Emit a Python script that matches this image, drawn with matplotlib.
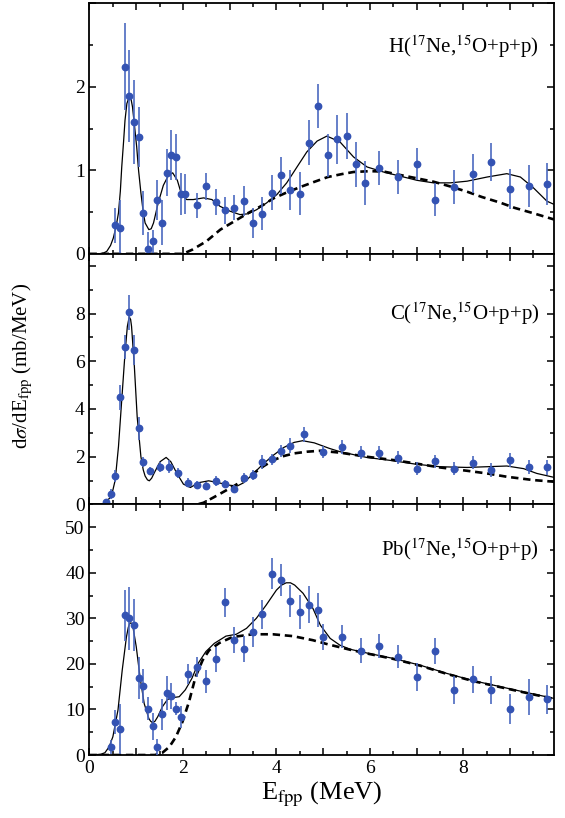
import numpy as np
import matplotlib
matplotlib.use('Agg')
import matplotlib.pyplot as plt
from matplotlib.ticker import MultipleLocator, FuncFormatter

plt.rcParams['font.family'] = ['Liberation Serif', 'DejaVu Serif']
plt.rcParams['mathtext.fontset'] = 'stix'

# ---- H target ----
h_e = [0.55, 0.65, 0.75, 0.85, 0.95, 1.05, 1.15, 1.25, 1.35, 1.45, 1.55, 1.65, 1.75, 1.85, 1.95, 2.05,
       2.3, 2.5, 2.7, 2.9, 3.1, 3.3, 3.5, 3.7, 3.9, 4.1, 4.3, 4.5, 4.7, 4.9, 5.1, 5.3, 5.5, 5.7, 5.9,
       6.2, 6.6, 7.0, 7.4, 7.8, 8.2, 8.6, 9.0, 9.4, 9.8]
h_val = [0.34, 0.31, 2.24, 1.89, 1.58, 1.40, 0.49, 0.06, 0.15, 0.65, 0.37, 0.97, 1.18, 1.16, 0.72, 0.72,
         0.58, 0.81, 0.62, 0.52, 0.55, 0.63, 0.37, 0.48, 0.73, 0.94, 0.76, 0.72, 1.33, 1.77, 1.18,
         1.37, 1.41, 1.07, 0.85, 1.03, 0.92, 1.08, 0.65, 0.80, 0.96, 1.10, 0.78, 0.81, 0.84]
h_err = [0.21, 0.34, 0.52, 0.55, 0.50, 0.36, 0.26, 0.20, 0.14, 0.24, 0.27, 0.28, 0.30, 0.27, 0.25, 0.24,
         0.15, 0.16, 0.16, 0.16, 0.15, 0.18, 0.18, 0.20, 0.21, 0.22, 0.24, 0.26, 0.27, 0.26, 0.26,
         0.29, 0.28, 0.27, 0.26, 0.20, 0.20, 0.19, 0.20, 0.20, 0.23, 0.23, 0.24, 0.25, 0.25]
h_fit_e = [0.19, 0.30, 0.37, 0.45, 0.51, 0.57, 0.62, 0.66, 0.69, 0.73, 0.76, 0.80, 0.85, 0.89, 0.92,
           0.96, 1.01, 1.05, 1.10, 1.15, 1.19, 1.27, 1.32, 1.37, 1.47, 1.58, 1.69, 1.78, 1.88, 1.97,
           2.08, 2.22, 2.44, 2.62, 2.79, 3.01, 3.22, 3.40, 3.58, 3.79, 4.01, 4.22, 4.44, 4.65, 4.87,
           5.08, 5.36, 5.65, 5.94, 6.29, 6.65, 7.01, 7.36, 7.72, 8.08, 8.51, 8.93, 9.22, 9.50, 9.79,
           9.95]
h_fit = [0.0, 0.01, 0.03, 0.10, 0.19, 0.33, 0.49, 0.75, 1.04, 1.35, 1.60, 1.80, 1.88, 1.85, 1.76,
         1.55, 1.28, 1.00, 0.73, 0.50, 0.37, 0.29, 0.30, 0.37, 0.61, 0.82, 0.94, 0.97, 0.88, 0.71,
         0.65, 0.65, 0.67, 0.65, 0.57, 0.51, 0.47, 0.48, 0.53, 0.61, 0.71, 0.85, 1.04, 1.22, 1.35,
         1.41, 1.34, 1.16, 1.04, 0.98, 0.93, 0.88, 0.85, 0.85, 0.87, 0.92, 0.96, 0.92, 0.79, 0.63,
         0.59]
h_bg_e = [0.0, 2.0, 2.2, 2.5, 2.8, 3.1, 3.4, 3.7, 3.94, 4.2, 4.51, 4.8, 5.1, 5.4, 5.65, 6.0, 6.3,
          6.65, 7.0, 7.36, 7.7, 8.08, 8.4, 8.79, 9.1, 9.5, 9.95]
h_bg = [0.0, 0.0, 0.05, 0.15, 0.29, 0.39, 0.49, 0.58, 0.665, 0.73, 0.80, 0.86, 0.92, 0.955, 0.98,
        0.99, 0.985, 0.944, 0.905, 0.864, 0.81, 0.744, 0.68, 0.613, 0.55, 0.486, 0.41]

# ---- C target ----
c_e = [0.35, 0.45, 0.55, 0.65, 0.75, 0.85, 0.95, 1.05, 1.15, 1.3, 1.5, 1.7, 1.9, 2.1, 2.3, 2.5, 2.7,
       2.9, 3.1, 3.3, 3.5, 3.7, 3.9, 4.1, 4.3, 4.6, 5.0, 5.4, 5.8, 6.2, 6.6, 7.0, 7.4, 7.8, 8.2, 8.6,
       9.0, 9.4, 9.8]
c_val = [0.11, 0.43, 1.19, 4.49, 6.60, 8.05, 6.48, 3.19, 1.79, 1.41, 1.58, 1.58, 1.30, 0.91, 0.81,
         0.77, 0.98, 0.85, 0.66, 1.09, 1.23, 1.78, 1.89, 2.23, 2.46, 2.94, 2.18, 2.41, 2.17, 2.17,
         1.95, 1.50, 1.80, 1.50, 1.75, 1.44, 1.86, 1.58, 1.55]
c_err = [0.10, 0.20, 0.25, 0.52, 0.52, 0.73, 0.63, 0.49, 0.21, 0.17, 0.21, 0.28, 0.21, 0.18, 0.18,
         0.15, 0.20, 0.17, 0.15, 0.21, 0.21, 0.28, 0.23, 0.26, 0.31, 0.31, 0.25, 0.28, 0.28, 0.28,
         0.27, 0.28, 0.28, 0.28, 0.28, 0.28, 0.31, 0.29, 0.33]
c_fit_e = [0.20, 0.33, 0.44, 0.50, 0.55, 0.62, 0.69, 0.76, 0.81, 0.85, 0.88, 0.90, 0.96, 1.02, 1.10,
           1.15, 1.19, 1.24, 1.28, 1.33, 1.38, 1.51, 1.64, 1.74, 1.87, 2.01, 2.16, 2.33, 2.55, 2.76,
           2.98, 3.16, 3.30, 3.51, 3.73, 3.94, 4.16, 4.38, 4.56, 4.81, 5.13, 5.36, 5.93, 6.50, 6.97,
           7.50, 8.08, 8.50, 8.93, 9.29, 9.57, 9.95]
c_fit = [0.0, 0.04, 0.29, 0.60, 1.02, 2.42, 4.38, 6.34, 7.46, 7.86, 7.75, 7.46, 5.78, 3.68, 2.00,
         1.45, 1.19, 1.03, 0.99, 1.10, 1.30, 1.79, 1.97, 1.79, 1.30, 0.85, 0.71, 0.91, 0.99, 0.91,
         0.81, 0.77, 0.91, 1.30, 1.72, 2.07, 2.39, 2.60, 2.67, 2.58, 2.35, 2.21, 1.97, 1.83, 1.69,
         1.58, 1.55, 1.58, 1.61, 1.50, 1.30, 1.13]
c_bg_e = [0.0, 2.3, 2.44, 2.65, 2.87, 3.09, 3.30, 3.51, 3.73, 3.94, 4.16, 4.38, 4.66, 4.94, 5.36,
          5.93, 6.50, 6.97, 7.50, 8.08, 8.50, 8.93, 9.50, 9.95]
c_bg = [0.0, 0.0, 0.07, 0.29, 0.53, 0.77, 1.02, 1.30, 1.61, 1.86, 2.03, 2.14, 2.21, 2.25, 2.17,
        2.00, 1.86, 1.72, 1.55, 1.41, 1.30, 1.16, 1.02, 0.95]

# ---- Pb target ----
pb_e = [0.45, 0.55, 0.65, 0.75, 0.85, 0.95, 1.05, 1.15, 1.25, 1.35, 1.45, 1.55, 1.65, 1.75, 1.85,
        1.95, 2.1, 2.3, 2.5, 2.7, 2.9, 3.1, 3.3, 3.5, 3.7, 3.9, 4.1, 4.3, 4.5, 4.7, 4.9, 5.0, 5.4,
        5.8, 6.2, 6.6, 7.0, 7.4, 7.8, 8.2, 8.6, 9.0, 9.4, 9.8]
pb_val = [1.8, 7.2, 5.8, 30.7, 30.0, 28.5, 17.0, 15.1, 10.2, 6.3, 1.8, 8.9, 13.6, 13.0, 10.2,
          8.3, 17.7, 19.4, 16.2, 21.0, 33.5, 25.2, 23.3, 26.9, 30.9, 39.8, 38.4, 33.8, 31.4, 33.0,
          31.9, 25.9, 26.0, 22.9, 23.9, 21.6, 17.2, 22.8, 14.3, 16.6, 14.3, 10.1, 12.7, 12.2]
pb_err = [1.5, 2.6, 5.5, 5.6, 6.9, 5.7, 4.6, 3.7, 2.6, 2.9, 1.8, 3.5, 3.7, 2.9, 1.5,
          2.4, 2.2, 2.2, 2.5, 2.7, 3.1, 2.9, 2.9, 3.3, 3.2, 3.4, 3.5, 3.5, 3.8, 4.0,
          3.7, 2.9, 2.6, 2.7, 2.7, 2.6, 3.1, 2.8, 3.1, 3.0, 3.1, 3.3, 3.9, 3.2]
pb_fit_e = [0.08, 0.25, 0.33, 0.42, 0.50, 0.61, 0.70, 0.79, 0.83, 0.86, 0.89, 0.93, 1.00, 1.08,
            1.17, 1.27, 1.31, 1.35, 1.40, 1.46, 1.56, 1.67, 1.79, 1.92, 2.05, 2.19, 2.33, 2.49,
            2.67, 2.92, 3.14, 3.36, 3.57, 3.78, 4.00, 4.11, 4.21, 4.30, 4.39, 4.57, 4.78, 4.94,
            5.15, 5.36, 5.58, 5.93, 6.50, 7.08, 7.65, 8.22, 8.79, 9.36, 9.95]
pb_fit = [0.0, 0.2, 0.5, 1.8, 4.0, 9.9, 18.6, 25.9, 28.0, 28.9, 29.0, 28.1, 23.8, 17.2,
          11.3, 8.0, 7.4, 7.1, 7.4, 8.4, 10.6, 12.2, 12.6, 12.8, 14.3, 16.8, 20.2, 22.7,
          24.5, 26.1, 26.5, 27.8, 30.0, 32.9, 36.2, 37.3, 37.8, 37.8, 37.3, 35.5, 32.2, 28.5,
          25.6, 24.1, 23.2, 22.4, 21.2, 19.7, 17.9, 16.3, 15.0, 13.7, 12.4]
pb_bg_e = [0.0, 1.40, 1.56, 1.71, 1.85, 1.99, 2.13, 2.27, 2.42, 2.56, 2.78, 3.06, 3.49, 3.92,
           4.35, 4.78, 5.10, 5.58, 5.93, 6.50, 7.08, 7.65, 8.22, 8.79, 9.36, 9.95]
pb_bg = [0.0, 0.0, 0.5, 1.8, 4.0, 7.3, 11.7, 17.2, 20.8, 23.0, 24.6, 25.9, 26.5, 26.5,
         26.1, 25.2, 24.3, 23.1, 22.3, 21.1, 19.6, 17.8, 16.2, 14.9, 13.6, 12.3]

panels = [
    ('H', h_e, h_val, h_err, h_fit_e, h_fit, h_bg_e, h_bg, 3.0, 1, 0.5, 2, 0.827),
    ('C', c_e, c_val, c_err, c_fit_e, c_fit, c_bg_e, c_bg, 10.5, 2, 1, 8, 0.763),
    ('Pb', pb_e, pb_val, pb_err, pb_fit_e, pb_fit, pb_bg_e, pb_bg, 55, 10, 5, 50, 0.82),
]

fig, axes = plt.subplots(3, 1, figsize=(5.65, 8.18), dpi=100, sharex=True,
                         gridspec_kw={'hspace': 0})
fig.subplots_adjust(left=0.1584, right=0.9814, top=0.996, bottom=0.077)

pt_color = '#3453b3'
for ax, (tgt, e, v, err, fe, fv, be, bv, ymax, major, minor, top_lab, ty) in zip(axes, panels):
    ax.plot(be, bv, color='black', lw=1.9, linestyle=(0, (2.8, 1.8)), zorder=2)
    ax.plot(fe, fv, color='black', lw=0.9, zorder=3)
    ax.errorbar(e, v, yerr=err, fmt='o', color=pt_color, ecolor='#4c69c0', ms=4.6,
                elinewidth=1.2, capsize=0, zorder=4)
    ax.set_xlim(0, 9.95)
    ax.set_ylim(0, ymax)
    ax.xaxis.set_major_locator(MultipleLocator(1))
    ax.xaxis.set_minor_locator(MultipleLocator(0.5))
    ax.xaxis.set_major_formatter(FuncFormatter(lambda x, p: '%d' % x if int(round(x)) % 2 == 0 else ''))
    ax.yaxis.set_major_locator(MultipleLocator(major))
    ax.yaxis.set_minor_locator(MultipleLocator(minor))
    ax.yaxis.set_major_formatter(FuncFormatter(lambda y, p, t=top_lab: '' if y > t + 1e-6 else '%d' % y))
    ax.tick_params(which='both', direction='in', top=True, right=True, labelsize=14, width=1.1)
    ax.tick_params(which='major', length=5)
    ax.tick_params(which='minor', length=3)
    for s in ax.spines.values():
        s.set_linewidth(1.3)
    ax.text(0.967, ty, tgt + '($^{17}$Ne,$^{15}$O+p+p)', transform=ax.transAxes,
            ha='right', va='center', fontsize=15)

axes[2].set_xlabel(r'E$_{\rm fpp}$ (MeV)', fontsize=19, labelpad=2)
fig.text(0.041, 0.552, r'd$\sigma$/dE$_{\rm fpp}$ (mb/MeV)', rotation=90,
         ha='center', va='center', fontsize=15)

fig.savefig('out.png', dpi=100)
